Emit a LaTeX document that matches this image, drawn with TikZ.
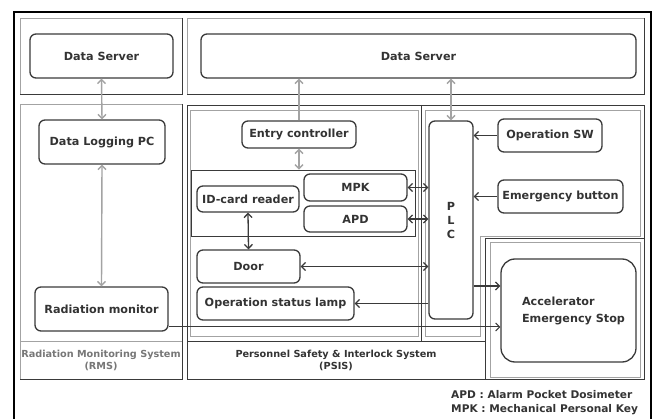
\documentclass[tikz,border=0pt]{standalone}
\usepackage{fontspec}
\setmainfont{DejaVu Sans}
\usepackage{xcolor}
\usetikzlibrary{arrows.meta}

\definecolor{boxline}{HTML}{3A3A3A}
\definecolor{lightline}{HTML}{A3A3A3}
\definecolor{txt}{HTML}{333333}
\definecolor{softtxt}{HTML}{777777}

\begin{document}
\begin{tikzpicture}[x=1pt,y=-1pt,
    unit/.style={draw=boxline, line width=1.3pt, rounded corners=6pt, inner sep=0pt,
      font=\fontsize{11.2}{13}\selectfont\bfseries, text=txt, align=center},
    greylink/.style={lightline, line width=1.4pt},
    darklink/.style={boxline, line width=1.3pt},
    sysname/.style={font=\fontsize{9.7}{12}\selectfont\bfseries, align=center, inner sep=0pt},
    >={Straight Barb[length=4pt,width=8pt]}]
    \useasboundingbox (0,0) rectangle (656,419);

    % Outer frame and system areas
    \draw[black, line width=1.2pt] (14,419) -- (14,12) -- (651,12) -- (651,419);
    \draw[lightline] (20,18) rectangle (182,94);
    \draw[boxline] (182,18) -- (182,94) -- (20,94);
    \draw[lightline] (20,104) rectangle (182,379);
    \draw[boxline] (182,104) -- (182,379) -- (20,379);
    \draw[lightline] (20,341) -- (182,341);
    \draw[lightline] (187,18) rectangle (644,94);
    \draw[boxline] (644,18) -- (644,94) -- (187,94);
    \draw[boxline] (187,105) rectangle (644,379);
    \draw[boxline] (187,341) -- (485,341) (421,105) -- (421,341) (485,379) -- (485,238) -- (644,238);
    \draw[lightline] (190,110) rectangle (418,336);
    \draw[lightline] (425,110) -- (640,110) -- (640,236) -- (480,236) -- (480,336) -- (425,336) -- cycle;
    \draw[lightline] (490,242) rectangle (640,377);

    % Radiation Monitoring System
    \node[unit, minimum width=143pt, minimum height=44pt] (serverrms) at (101.5,56) {Data Server};
    \node[unit, minimum width=126pt, minimum height=44pt] (loggingpc) at (102,142) {Data Logging PC};
    \node[unit, minimum width=133pt, minimum height=44pt] (radmonitor) at (101.5,309) {Radiation monitor};
    \node[sysname, text=softtxt] (rmsname) at (101,360) {Radiation Monitoring System\\(RMS)};

    % Personnel Safety & Interlock System
    \node[unit, minimum width=435pt, minimum height=44pt] (serverpsis) at (418.5,56) {Data Server};
    \node[unit, minimum width=114pt, minimum height=27pt] (entry) at (299,134.5) {Entry controller};
    \node[draw=boxline, line width=0.6pt, inner sep=0pt, minimum width=224pt, minimum height=66pt] (cardgroup) at (303,203) {};
    \node[unit, minimum width=102pt, minimum height=26pt] (idcard) at (248,199) {ID-card reader};
    \node[unit, minimum width=103pt, minimum height=27pt] (mpk) at (355.5,187.5) {MPK};
    \node[unit, minimum width=103pt, minimum height=26pt] (apd) at (355.5,219) {APD};
    \node[unit, minimum width=103pt, minimum height=33pt] (door) at (248.5,266.5) {Door};
    \node[unit, minimum width=157pt, minimum height=33pt] (lamp) at (275.5,303.5) {Operation status lamp};
    \node[unit, minimum width=44pt, minimum height=198pt, font=\fontsize{11.2}{14}\selectfont\bfseries] (plc) at (451,220) {P\\L\\C};
    \node[unit, minimum width=104pt, minimum height=33pt] (opsw) at (550,135.5) {Operation SW};
    \node[unit, minimum width=125pt, minimum height=33pt] (emergency) at (560.5,196.5) {Emergency button};
    \node[unit, minimum width=135pt, minimum height=103pt, rounded corners=14pt, align=left,
      font=\fontsize{11.2}{17}\selectfont\bfseries] (accel) at (568.5,310.5) {\hspace*{10pt}Accelerator\\\hspace*{10pt}Emergency Stop};
    \node[sysname, text=txt] (psisname) at (336,360) {Personnel Safety \& Interlock System\\(PSIS)};

    % Legend
    \node[anchor=north west, inner sep=0pt, align=left, text=txt,
      font=\fontsize{10.6}{14}\selectfont\bfseries] (legend) at (451,390) {APD : Alarm Pocket Dosimeter\\MPK : Mechanical Personal Key};

    % Data links
    \draw[greylink, <->] (serverrms.south) -- (loggingpc.north);
    \draw[greylink, <->] (loggingpc.south) -- (radmonitor.north);
    \draw[greylink, ->] (entry.north) -- (entry.north |- serverpsis.south);
    \draw[greylink, <->] (entry.south) -- (entry.south |- cardgroup.north);
    \draw[greylink, <->] (plc.north |- serverpsis.south) -- (plc.north);

    % Interlock signals
    \draw[darklink, <->] (idcard.south) -- (door.north);
    \draw[darklink, <->] (mpk.east) -- (mpk.east -| plc.west);
    \draw[darklink, <->] (apd.east) -- (apd.east -| plc.west);
    \draw[darklink, <->] (door.east) -- (door.east -| plc.west);
    \draw[darklink, ->] (lamp.east -| plc.west) -- (lamp.east);
    \draw[darklink, ->] (opsw.west) -- (opsw.west -| plc.east);
    \draw[darklink, ->] (emergency.west) -- (emergency.west -| plc.east);
    \draw[darklink, ->] ([yshift=24.5pt]accel.west -| plc.east) -- ([yshift=24.5pt]accel.west);
    \draw[darklink, line width=1pt, ->] ([yshift=-18pt]radmonitor.east) -- ([yshift=-18pt]radmonitor.east -| accel.west);
\end{tikzpicture}
\end{document}
